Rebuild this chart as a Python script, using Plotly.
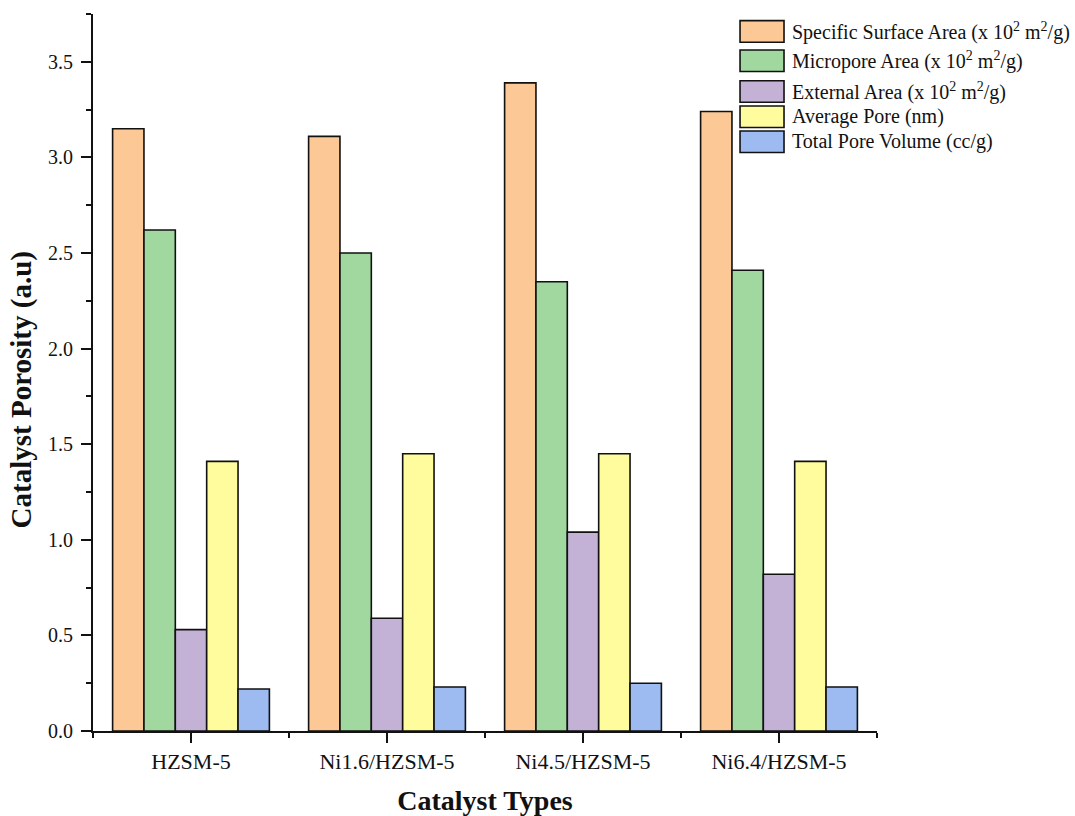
import plotly.graph_objects as go

# Catalyst samples on the x axis
categories = ["HZSM-5", "Ni1.6/HZSM-5", "Ni4.5/HZSM-5", "Ni6.4/HZSM-5"]

# Porosity measurements per catalyst
specific_surface_area = [3.15, 3.11, 3.39, 3.24]
micropore_area = [2.62, 2.50, 2.35, 2.41]
external_area = [0.53, 0.59, 1.04, 0.82]
average_pore = [1.41, 1.45, 1.45, 1.41]
total_pore_volume = [0.22, 0.23, 0.25, 0.23]

series_names = [
    "Specific Surface Area (x 10<sup>2</sup> m<sup>2</sup>/g)",
    "Micropore Area (x 10<sup>2</sup> m<sup>2</sup>/g)",
    "External Area (x 10<sup>2</sup> m<sup>2</sup>/g)",
    "Average Pore (nm)",
    "Total Pore Volume (cc/g)",
]
series_values = [specific_surface_area, micropore_area, external_area,
                 average_pore, total_pore_volume]
series_colors = ["#FCC896", "#A0D89F", "#C3B2D6", "#FFFC9E", "#9DBBF1"]

y_ticks = [0.0, 0.5, 1.0, 1.5, 2.0, 2.5, 3.0, 3.5]

FONT = "Liberation Serif, Times New Roman, serif"
x_pos = list(range(len(categories)))

fig = go.Figure()
for name, vals, col in zip(series_names, series_values, series_colors):
    fig.add_trace(go.Bar(
        x=x_pos, y=vals, name=name,
        marker=dict(color=col, line=dict(color="#111111", width=1.6)),
        showlegend=False,
    ))

# Hand-built legend with large swatches in the upper right corner
legend_tops = [0.9907, 0.9498, 0.9070, 0.8717, 0.8368]
sw_h = 0.030
for top, name, col in zip(legend_tops, series_names, series_colors):
    fig.add_shape(type="rect", xref="paper", yref="paper",
                  x0=0.8253, x1=0.8814, y0=top - sw_h, y1=top,
                  fillcolor=col, line=dict(color="#111111", width=1.6))
    fig.add_annotation(xref="paper", yref="paper", x=0.8885, y=top - sw_h / 2,
                       text=name, showarrow=False, xanchor="left", yanchor="middle",
                       font=dict(family=FONT, size=20, color="#111111"))

# Vertical axis title
fig.add_annotation(xref="paper", yref="paper", x=-0.090, y=0.4756,
                   text="<b>Catalyst Porosity (a.u)</b>", textangle=-90,
                   showarrow=False, xanchor="center", yanchor="middle",
                   font=dict(family=FONT, size=29, color="#111111"))

fig.update_layout(
    width=1075, height=816,
    margin=dict(l=93, r=198, t=14, b=85),
    paper_bgcolor="white", plot_bgcolor="white",
    barmode="group", bargap=0.2, bargroupgap=0,
    font=dict(family=FONT, color="#111111"),
)
fig.update_xaxes(
    range=[-0.5, 3.5], tickmode="array", tickvals=x_pos, ticktext=categories,
    showline=True, linecolor="#111111", linewidth=2, mirror=False,
    ticks="outside", ticklen=10, tickwidth=2, tickcolor="#111111",
    minor=dict(tickmode="array", tickvals=[-0.5, 0.5, 1.5, 2.5, 3.5],
               ticks="outside", ticklen=5, tickwidth=2, tickcolor="#111111"),
    showgrid=False, zeroline=False,
    tickfont=dict(family=FONT, size=22, color="#111111"),
    ticklabelstandoff=0,
    title=dict(text="<b>Catalyst Types</b>", standoff=18,
               font=dict(family=FONT, size=28, color="#111111")),
    automargin=False,
)
fig.update_yaxes(
    range=[0, 3.75], tickmode="array", tickvals=y_ticks,
    ticktext=[f"{v:.1f}" for v in y_ticks],
    showline=True, linecolor="#111111", linewidth=2,
    ticks="outside", ticklen=10, tickwidth=2, tickcolor="#111111",
    minor=dict(tickmode="array", tickvals=[0.25, 0.75, 1.25, 1.75, 2.25, 2.75, 3.25, 3.75],
               ticks="outside", ticklen=5, tickwidth=2, tickcolor="#111111"),
    showgrid=False, zeroline=False,
    tickfont=dict(family=FONT, size=20, color="#111111"),
    ticklabelstandoff=4,
    automargin=False,
)

fig.write_html("out.html")
